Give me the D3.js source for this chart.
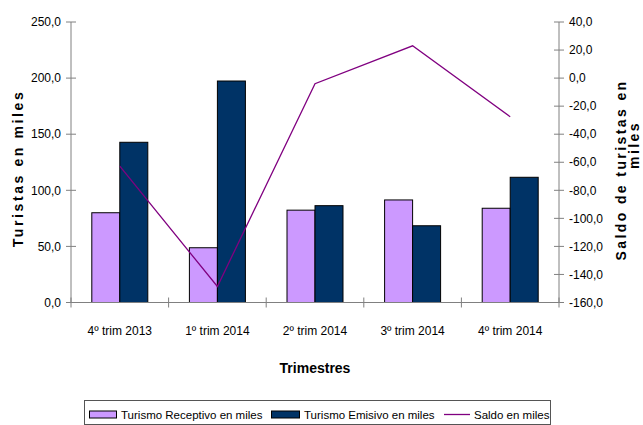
<!DOCTYPE html>
<html><head><meta charset="utf-8">
<script src="https://cdn.jsdelivr.net/npm/d3@7"></script>
<style>
html,body{margin:0;padding:0;background:#fff;}
svg{display:block;font-family:"Liberation Sans",Arial,sans-serif;}
</style></head>
<body>
<svg id="chart" width="643" height="425"></svg>
<script>
const categories = ["4º trim 2013","1º trim 2014","2º trim 2014","3º trim 2014","4º trim 2014"];
const receptivo = [80.0, 48.8, 82.3, 91.4, 84.0];
const emisivo = [142.8, 197.4, 86.3, 68.4, 111.6];
const saldo = [-62.8, -148.6, -4.0, 23.0, -27.6];
const leftTicks = [0,50,100,150,200,250];
const rightTicks = [-160,-140,-120,-100,-80,-60,-40,-20,0,20,40];
const seriesNames = ["Turismo Receptivo en miles","Turismo Emisivo en miles","Saldo en miles"];
const colors = ["#CC99FF","#003366","#800080"];

const svg = d3.select("#chart");
svg.append("rect").attr("width",643).attr("height",425).attr("fill","#fff");

const L=71, R=559, T=22, B=302.5;
const x = d3.scaleBand().domain(categories).range([L,R]).padding(0);
const xs = d3.scaleBand().domain([0,1]).range([0,x.bandwidth()]).paddingInner(0).paddingOuter(0.743);
const yL = d3.scaleLinear().domain([0,250]).range([B,T]);
const yR = d3.scaleLinear().domain([-160,40]).range([B,T]);
const fmt = d => d3.format(".1f")(d).replace(".",",").replace("−","-");
const axisCol = "#808080";

// bars
const g = svg.append("g");
categories.forEach((c,i)=>{
  [receptivo[i], emisivo[i]].forEach((v,j)=>{
    g.append("rect")
      .attr("x", x(c)+xs(j)).attr("y", yL(v))
      .attr("width", xs.bandwidth()).attr("height", yL(0)-yL(v))
      .attr("fill", colors[j]).attr("stroke","#000").attr("stroke-width",1);
  });
});

// left axis
const la = svg.append("g");
la.append("line").attr("x1",L).attr("x2",L).attr("y1",T).attr("y2",B).attr("stroke",axisCol);
leftTicks.forEach(t=>{
  la.append("line").attr("x1",L-5).attr("x2",L+5).attr("y1",yL(t)).attr("y2",yL(t)).attr("stroke",axisCol);
  la.append("text").attr("x",L-10).attr("y",yL(t)).attr("dy","0.35em").attr("text-anchor","end")
    .attr("font-size",12).attr("fill","#000").text(fmt(t));
});
// right axis
const ra = svg.append("g");
ra.append("line").attr("x1",R).attr("x2",R).attr("y1",T).attr("y2",B).attr("stroke",axisCol);
rightTicks.forEach(t=>{
  ra.append("line").attr("x1",R-5).attr("x2",R+5).attr("y1",yR(t)).attr("y2",yR(t)).attr("stroke",axisCol);
  ra.append("text").attr("x",R+10).attr("y",yR(t)).attr("dy","0.35em").attr("text-anchor","start")
    .attr("font-size",12).attr("fill","#000").text(fmt(t));
});
// x axis
const xa = svg.append("g");
xa.append("line").attr("x1",L).attr("x2",R).attr("y1",B).attr("y2",B).attr("stroke",axisCol);
const bounds = categories.map(c=>x(c)).concat([R]);
bounds.forEach(b=>{
  xa.append("line").attr("x1",b).attr("x2",b).attr("y1",B-5).attr("y2",B+5).attr("stroke",axisCol);
});
categories.forEach(c=>{
  xa.append("text").attr("x",x(c)+x.bandwidth()/2).attr("y",335).attr("text-anchor","middle")
    .attr("font-size",12).text(c);
});

// line
const line = d3.line().x((d,i)=>x(categories[i])+x.bandwidth()/2).y(d=>yR(d));
svg.append("path").datum(saldo).attr("d",line).attr("fill","none")
  .attr("stroke",colors[2]).attr("stroke-width",1.3);

// titles
svg.append("text").attr("transform","translate(23,168.5) rotate(-90)").attr("text-anchor","middle")
  .attr("font-size",14).attr("font-weight","bold").attr("letter-spacing",2.6).text("Turistas en miles");
svg.append("text").attr("transform","translate(626,170) rotate(-90)").attr("text-anchor","middle")
  .attr("font-size",14).attr("font-weight","bold").attr("letter-spacing",2.4).text("Saldo de turistas en");
svg.append("text").attr("transform","translate(639,145) rotate(-90)").attr("text-anchor","middle")
  .attr("font-size",14).attr("font-weight","bold").attr("letter-spacing",2.4).text("miles");
svg.append("text").attr("x",315).attr("y",373).attr("text-anchor","middle")
  .attr("font-size",14).attr("font-weight","bold").text("Trimestres");

// legend
const lg = svg.append("g");
lg.append("rect").attr("x",84.5).attr("y",400.5).attr("width",466).attr("height",24)
  .attr("fill","#fff").attr("stroke","#555");
const ly = 414.5;
lg.append("rect").attr("x",89.5).attr("y",ly-3.5).attr("width",27).attr("height",7)
  .attr("fill",colors[0]).attr("stroke","#000");
lg.append("text").attr("x",121).attr("y",ly).attr("dy","0.35em").attr("font-size",11.5).text(seriesNames[0]);
lg.append("rect").attr("x",271.5).attr("y",ly-3.5).attr("width",28).attr("height",7)
  .attr("fill",colors[1]).attr("stroke","#000");
lg.append("text").attr("x",304).attr("y",ly).attr("dy","0.35em").attr("font-size",11.5).text(seriesNames[1]);
lg.append("line").attr("x1",444).attr("x2",470).attr("y1",ly).attr("y2",ly)
  .attr("stroke",colors[2]).attr("stroke-width",1.3);
lg.append("text").attr("x",474).attr("y",ly).attr("dy","0.35em").attr("font-size",11.5).text(seriesNames[2]);
</script>
</body></html>
